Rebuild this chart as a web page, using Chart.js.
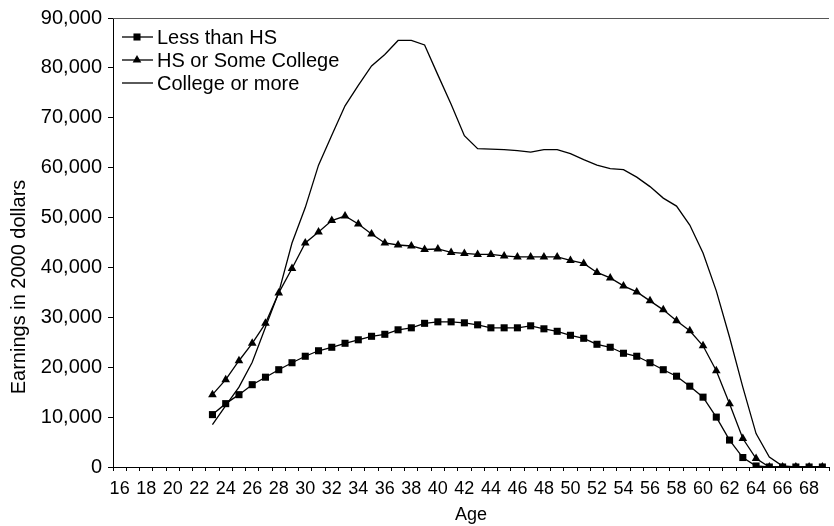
<!DOCTYPE html>
<html>
<head>
<meta charset="utf-8">
<script src="https://cdn.jsdelivr.net/npm/chart.js@4.4.1/dist/chart.umd.min.js"></script>
<style>
  html, body { margin: 0; padding: 0; background: #fff; }
  #wrap { width: 834px; height: 526px; }
</style>
</head>
<body>
<div id="wrap"><canvas id="earningsChart" width="834" height="526"></canvas></div>
<script>
// Ages on the category axis
const ages = [];
for (let a = 16; a <= 69; a++) ages.push(a);

// Earnings by age (ages 16-22 have no data)
const lessThanHS = [null, null, null, null, null, null, null,
  10500, 12700, 14500, 16500, 18000, 19500, 20900, 22200, 23300, 24000,
  24800, 25500, 26200, 26600, 27500, 27900, 28800, 29100, 29100, 28900,
  28500, 27900, 27900, 27900, 28300, 27700, 27200, 26400, 25800, 24600,
  24000, 22800, 22200, 20900, 19500, 18200, 16200, 14000, 10000, 5400,
  1900, 200, 0, 0, 0, 0, 0];

const hsSomeCollege = [null, null, null, null, null, null, null,
  14500, 17500, 21300, 24800, 28800, 34900, 39800, 44900, 47100, 49400,
  50300, 48700, 46700, 44900, 44500, 44300, 43600, 43700, 43000, 42800,
  42600, 42600, 42300, 42100, 42100, 42100, 42100, 41400, 40800, 39000,
  37900, 36300, 35100, 33300, 31500, 29300, 27300, 24300, 19300, 12700,
  5700, 1700, 0, 0, 0, 0, 0];

const collegeMore = [null, null, null, null, null, null, null,
  8500, 12300, 16000, 21000, 28000, 35000, 44900, 52000, 60500, 66500,
  72400, 76500, 80400, 82700, 85500, 85500, 84600, 78600, 72700, 66400,
  63800, 63700, 63600, 63400, 63100, 63600, 63600, 62800, 61600, 60500,
  59800, 59600, 58100, 56200, 53900, 52300, 48500, 42900, 35300, 26000,
  16000, 6700, 2000, 200, 0, 0, 0];

const FONT = '"Liberation Sans", Arial, sans-serif';

// legend drawn inside the plot area, top-left, Excel style
const insideLegend = {
  id: 'insideLegend',
  afterDraw(chart) {
    const ctx = chart.ctx;
    const area = chart.chartArea;
    ctx.save();
    // top frame line
    ctx.strokeStyle = '#555';
    ctx.lineWidth = 1;
    ctx.beginPath();
    ctx.moveTo(area.left, area.top + 0.5);
    ctx.lineTo(area.right, area.top + 0.5);
    ctx.stroke();

    ctx.font = '20px ' + FONT;
    ctx.textBaseline = 'middle';
    ctx.fillStyle = '#000';
    chart.data.datasets.forEach(function (ds, i) {
      const y = 37 + i * 23;
      ctx.strokeStyle = ds.borderColor;
      ctx.lineWidth = ds.borderWidth;
      ctx.beginPath();
      ctx.moveTo(122, y);
      ctx.lineTo(153, y);
      ctx.stroke();
      if (ds.pointRadius > 0) {
        ctx.fillStyle = ds.pointBackgroundColor;
        Chart.helpers.drawPoint(ctx, {pointStyle: ds.pointStyle, radius: ds.pointRadius, borderWidth: 0}, 137, y);
      }
      ctx.fillStyle = '#000';
      ctx.fillText(ds.label, 157, y + 1);
    });

    // y axis title
    ctx.translate(25, 287);
    ctx.rotate(-Math.PI / 2);
    ctx.textAlign = 'center';
    ctx.textBaseline = 'alphabetic';
    ctx.fillText('Earnings in 2000 dollars', 0, 0);
    ctx.restore();
  }
};

const ctx = document.getElementById('earningsChart').getContext('2d');
const earningsChart = new Chart(ctx, {
  type: 'line',
  data: {
    labels: ages,
    datasets: [{
      label: 'Less than HS',
      data: lessThanHS,
      borderColor: '#000',
      borderWidth: 1.3,
      pointStyle: 'rect',
      pointRadius: 5,
      pointBackgroundColor: '#000',
      pointBorderWidth: 0,
      tension: 0
    }, {
      label: 'HS or Some College',
      data: hsSomeCollege,
      borderColor: '#000',
      borderWidth: 1.3,
      pointStyle: 'triangle',
      pointRadius: 5,
      pointBackgroundColor: '#000',
      pointBorderWidth: 0,
      tension: 0
    }, {
      label: 'College or more',
      data: collegeMore,
      borderColor: '#000',
      borderWidth: 1.3,
      pointRadius: 0,
      pointBackgroundColor: '#000',
      tension: 0
    }]
  },
  options: {
    responsive: false,
    animation: false,
    layout: { padding: { top: 15, right: 0, bottom: 0, left: 0 } },
    plugins: {
      legend: { display: false },
      tooltip: { enabled: false }
    },
    scales: {
      x: {
        offset: true,
        grid: { offset: true, drawOnChartArea: false, tickLength: 4, color: '#000' },
        border: { color: '#000', width: 1 },
        ticks: {
          autoSkip: false,
          maxRotation: 0,
          color: '#000',
          padding: 7,
          font: { family: FONT, size: 18 },
          callback: function (v, i) { return ages[i] % 2 === 0 ? String(ages[i]) : ''; }
        },
        title: {
          display: true,
          text: 'Age',
          color: '#000',
          font: { family: FONT, size: 18 },
          padding: { top: 0, bottom: 0 }
        },
        afterFit: function (scale) { scale.height = 59; }
      },
      y: {
        min: 0,
        max: 90000,
        grid: { drawOnChartArea: false, tickLength: 5, color: '#000' },
        border: { color: '#000', width: 1 },
        ticks: {
          stepSize: 10000,
          color: '#000',
          padding: 6,
          font: { family: FONT, size: 20 },
          callback: function (v) { return v.toLocaleString('en-US'); }
        },
        afterFit: function (scale) { scale.width = 113; }
      }
    }
  },
  plugins: [insideLegend]
});
</script>
</body>
</html>
